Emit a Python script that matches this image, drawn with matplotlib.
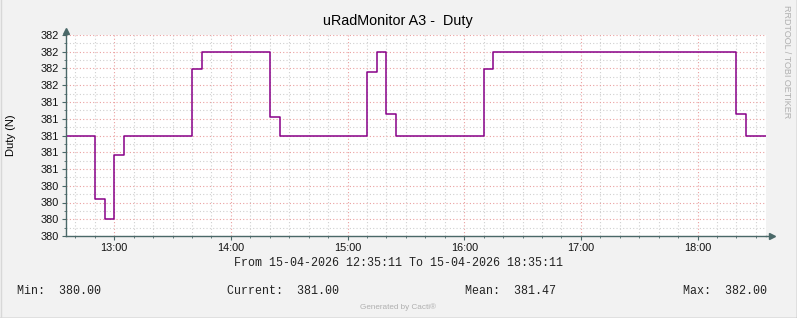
import matplotlib
matplotlib.use("Agg")
import matplotlib.pyplot as plt
import matplotlib.dates as mdates
from matplotlib.lines import Line2D
from matplotlib.ticker import FixedLocator
from datetime import datetime

# step data: each value holds until the next time
times = ["12:35:11", "12:50:00", "12:55:00", "13:00:00", "13:05:00", "13:40:00",
         "13:45:00", "14:20:00", "14:25:00", "15:10:00", "15:15:00", "15:20:00",
         "15:25:00", "16:10:00", "16:15:00", "18:20:00", "18:25:00", "18:35:11"]
duty = [381.0, 380.24, 380.0, 380.77, 381.0, 381.79,
        382.0, 381.22, 381.0, 381.76, 382.0, 381.26,
        381.0, 381.79, 382.0, 381.26, 381.0, 381.0]

yticks = [379.8, 380.0, 380.2, 380.4, 380.6, 380.8, 381.0,
          381.2, 381.4, 381.6, 381.8, 382.0, 382.2]
ytick_labels = ["380", "380", "380", "380", "381", "381", "381",
                "381", "381", "382", "382", "382", "382"]
xtick_hours = ["13:00", "14:00", "15:00", "16:00", "17:00", "18:00"]

legend_items = [("Min:  380.00", 17), ("Current:  381.00", 227),
                ("Mean:  381.47", 465), ("Max:  382.00", 683)]

day = "15-04-2026"
def to_dt(t):
    return datetime.strptime(day + " " + t, "%d-%m-%Y %H:%M:%S")

x = [to_dt(t) for t in times]
W, H = 797, 318
bg = "#f2f2f2"
axis_col = "#4a6868"
line_col = "#880088"

fig = plt.figure(figsize=(W / 100, H / 100), dpi=100, facecolor=bg)
ax = fig.add_axes([66 / W, 1 - 236 / H, 700 / W, 201 / H])
ax.set_facecolor("white")

ax.step(x, duty, where="post", color=line_col, lw=1.1)

ax.set_xlim(x[0], x[-1])
ax.set_ylim(yticks[0], yticks[-1])

# grid
ax.xaxis.set_major_locator(FixedLocator([mdates.date2num(to_dt(h + ":00")) for h in xtick_hours]))
ax.xaxis.set_major_formatter(mdates.DateFormatter("%H:%M"))
ax.xaxis.set_minor_locator(mdates.MinuteLocator(byminute=range(0, 60, 10)))
ax.set_yticks(yticks)
ax.set_yticklabels(ytick_labels)
ax.set_yticks([v + 0.1 for v in yticks[:-1]], minor=True)

ax.grid(which="minor", color="#d0d0d0", ls=(0, (1, 2)), lw=0.8)
ax.grid(which="major", color="#eaa0a0", ls=(0, (1, 2)), lw=0.8)
ax.set_axisbelow(True)

for s in ["top", "right"]:
    ax.spines[s].set_visible(False)
for s in ["left", "bottom"]:
    ax.spines[s].set_color(axis_col)
    ax.spines[s].set_linewidth(1.0)

ax.tick_params(which="major", length=3, width=0.8, color=axis_col, labelsize=7.8,
               labelcolor="#111111", pad=2)
ax.tick_params(which="minor", length=1.5, width=0.6, color=axis_col)
for lab in ax.get_xticklabels() + ax.get_yticklabels():
    lab.set_fontfamily("Liberation Sans")

# axis arrows
ax.plot([0], [1.02], marker="^", ms=4, color=axis_col, transform=ax.transAxes, clip_on=False)
ax.plot([0, 0], [1.0, 1.02], color=axis_col, lw=1.0, transform=ax.transAxes, clip_on=False)
ax.plot([1.0, 1.008], [0, 0], color=axis_col, lw=1.0, transform=ax.transAxes, clip_on=False)
ax.plot([1.008], [0], marker=">", ms=4, color=axis_col, transform=ax.transAxes, clip_on=False)

ax.set_ylabel("Duty (N)", fontsize=8, family="Liberation Sans")
ax.yaxis.set_label_coords(-50 / 700, 0.5)

fig.text(398 / W, 1 - 21 / H, "uRadMonitor A3 -  Duty", ha="center", va="center",
         fontsize=10.4, family="Liberation Sans")

mono = "Liberation Mono"
fig.text(398 / W, 1 - 263 / H,
         "From %s %s To %s %s" % (day, times[0], day, times[-1]),
         ha="center", va="center", fontsize=8.4, family=mono, color="#222222")
for txt, px in legend_items:
    fig.text(px / W, 1 - 291 / H, txt, ha="left", va="center", fontsize=8.4,
             family=mono, color="#222222")

fig.text(398 / W, 1 - 307 / H, "Generated by Cacti\u00ae", ha="center", va="center",
         fontsize=5.9, color="#b0b0b0", family="Liberation Sans")
fig.text(787 / W, 1 - 5 / H, "RRDTOOL / TOBI OETIKER", ha="center", va="top",
         rotation=270, fontsize=6.5, color="#b0b0b0", family="Liberation Sans")

# frame
fig.add_artist(Line2D([0, 1], [0.5 / H, 0.5 / H], color="#9a9a9a", lw=1))
fig.add_artist(Line2D([1 - 0.5 / W, 1 - 0.5 / W], [0, 1], color="#9a9a9a", lw=1))
fig.add_artist(Line2D([0.5 / W, 0.5 / W], [0, 1], color="#d8d8d8", lw=1))

fig.savefig("out.png", dpi=100, facecolor=bg)
